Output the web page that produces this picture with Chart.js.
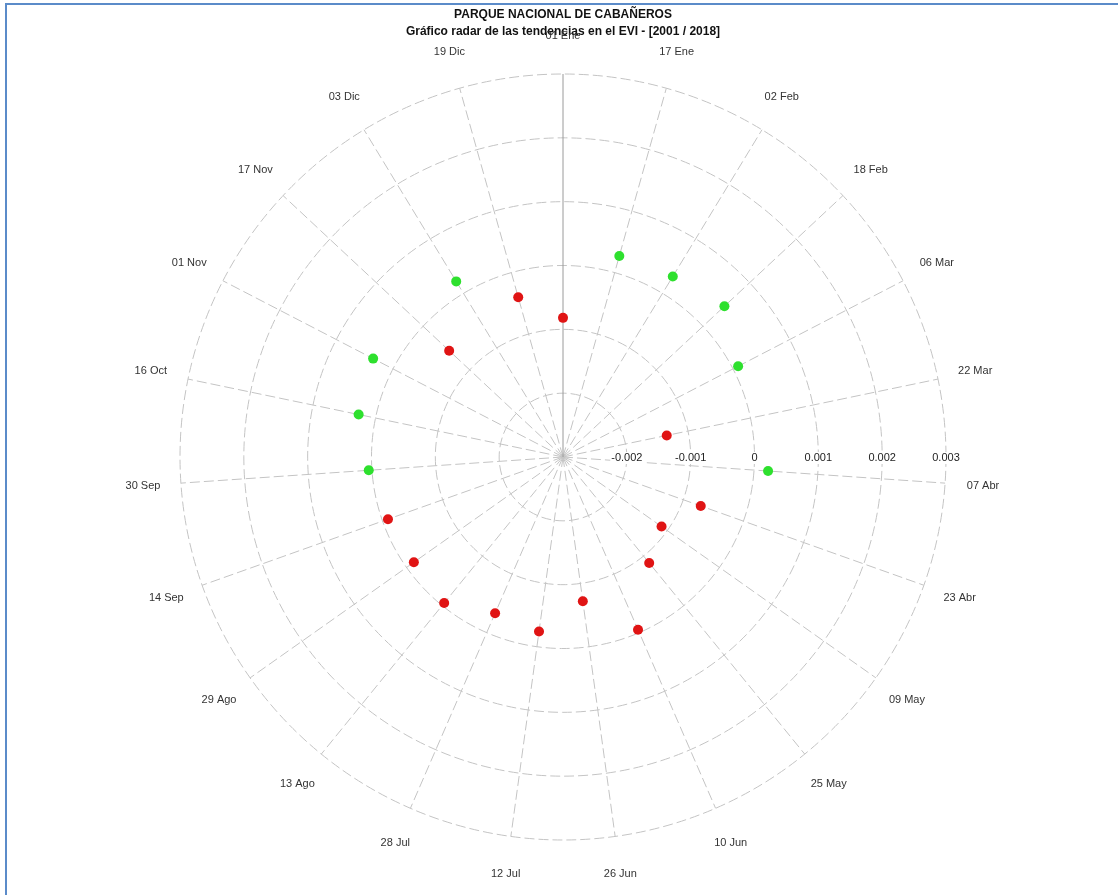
<!DOCTYPE html>
<html>
<head>
<meta charset="utf-8">
<script src="https://cdn.jsdelivr.net/npm/chart.js@4"></script>
<style>
  body { margin: 0; background: #fff; }
  #wrap { position: relative; width: 1118px; height: 895px; }
  #frame { position: absolute; left: 5px; top: 3px; right: 0; bottom: 0; border-left: 2px solid #5b8bc9; border-top: 2px solid #5b8bc9; pointer-events: none; }
  canvas { position: absolute; left: 0; top: 0; }
</style>
</head>
<body>
<div id="wrap">
  <canvas id="chart" width="1118" height="895"></canvas>
  <div id="frame"></div>
</div>
<script>
// 16-day periods (clockwise from the top)
const periods = ['01 Ene', '17 Ene', '02 Feb', '18 Feb', '06 Mar', '22 Mar', '07 Abr', '23 Abr',
  '09 May', '25 May', '10 Jun', '26 Jun', '12 Jul', '28 Jul', '13 Ago', '29 Ago',
  '14 Sep', '30 Sep', '16 Oct', '01 Nov', '17 Nov', '03 Dic', '19 Dic'];

// EVI trend per period
const trend = [-0.00082, 0.00027, 0.00031, 0.00046, 0.00009, -0.00134, 0.00022, -0.00071,
  -0.00111, -0.00086, -0.00005, -0.00072, -0.00024, -0.00033, -0.00005, -0.00014,
  -0.00009, 0.00005, 0.00027, 0.00035, -0.00056, 0.00022, -0.00040];

const tickValues = [-0.002, -0.001, 0, 0.001, 0.002, 0.003];
const tickLabels = ['-0.002', '-0.001', '0', '0.001', '0.002', '0.003'];

const titleLines = ['PARQUE NACIONAL DE CABAÑEROS',
  'Gráfico radar de las tendencias en el EVI - [2001 / 2018]'];

const FONT = '"Liberation Sans", Arial, sans-serif';

// tick labels along the right side and the period labels round the outside
const labelsPlugin = {
  id: 'radarLabels',
  beforeDatasetsDraw(chart) {
    const scale = chart.scales.r;
    const ctx = chart.ctx;
    ctx.save();
    ctx.font = '11px ' + FONT;
    ctx.textAlign = 'center';
    ctx.textBaseline = 'middle';

    tickValues.forEach((v, i) => {
      const x = scale.xCenter + scale.getDistanceFromCenterForValue(v);
      const y = scale.yCenter + 1;
      const w = ctx.measureText(tickLabels[i]).width;
      ctx.fillStyle = '#fff';
      ctx.fillRect(x - w / 2 - 1, y - 6, w + 2, 12);
      ctx.fillStyle = '#222';
      ctx.fillText(tickLabels[i], x, y);
    });

    ctx.fillStyle = '#333';
    periods.forEach((p, i) => {
      const pos = scale.getPointPosition(i, scale.drawingArea + 38);
      ctx.fillText(p, pos.x, pos.y);
    });
    ctx.restore();
  }
};

new Chart(document.getElementById('chart'), {
  type: 'radar',
  data: {
    labels: periods,
    datasets: [{
      label: 'Tendencia EVI',
      data: trend,
      borderWidth: 0,
      borderColor: 'transparent',
      backgroundColor: 'transparent',
      fill: false,
      pointRadius: 5,
      pointHoverRadius: 5,
      pointBorderWidth: 0,
      pointBackgroundColor: (ctx) => (ctx.raw >= 0 ? '#2ee02e' : '#e01414'),
    }],
  },
  options: {
    responsive: false,
    animation: false,
    layout: { padding: { left: 20, right: 12, top: 0, bottom: 55 } },
    plugins: {
      legend: { display: false },
      tooltip: { enabled: false },
      title: {
        display: true,
        text: titleLines,
        color: '#111',
        font: { family: FONT, size: 12, weight: 'bold', lineHeight: 1.4 },
        padding: { top: 6, bottom: 34.4 },
      },
    },
    scales: {
      r: {
        min: -0.003,
        max: 0.003,
        startAngle: 0,
        ticks: { stepSize: 0.001, display: false },
        pointLabels: { display: false },
        grid: { circular: true, color: '#c4c4c4', lineWidth: 1 },
        border: { dash: [10, 4] },
        angleLines: {
          color: (c) => (c.index === 0 ? '#9a9a9a' : '#c4c4c4'),
          borderDash: (c) => (c.index === 0 ? [] : [10, 4]),
          lineWidth: 1,
        },
      },
    },
  },
  plugins: [labelsPlugin],
});
</script>
</body>
</html>
